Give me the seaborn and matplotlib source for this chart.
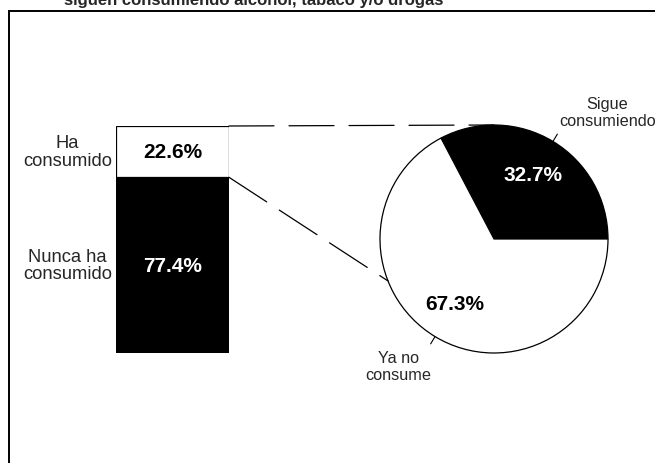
import numpy as np
import pandas as pd
import matplotlib
matplotlib.use("Agg")
import matplotlib.pyplot as plt
from matplotlib.patches import ConnectionPatch, Rectangle
import seaborn as sns

# ---- data ----
title_text = "siguen consumiendo alcohol, tabaco y/o drogas"
bar_categories = ["Nunca ha\nconsumido", "Ha\nconsumido"]
bar_values = [77.4, 22.6]
pie_categories = ["Sigue\nconsumiendo", "Ya no\nconsume"]
pie_values = [32.7, 67.3]

sns.set_style("white")
plt.rcParams["font.family"] = ["Liberation Sans", "DejaVu Sans"]

W, H = 655, 464
fig = plt.figure(figsize=(W / 100, H / 100), dpi=100)

def px_axes(left, top, width, height):
    return fig.add_axes([left / W, 1 - (top + height) / H, width / W, height / H])

# outer frame (extends past right/bottom edges like the reference)
fig.add_artist(Rectangle((8.5 / W, -0.2), 1.2, 1.2 - 12.3 / H, transform=fig.transFigure,
                         fill=False, edgecolor="black", linewidth=1.4))

fig.text(254 / W, 1 - 5.5 / H, title_text, ha="center", va="baseline",
         fontsize=12, fontweight="bold")

# ---- stacked bar ----
ax_bar = px_axes(116, 127, 113, 227)
total = sum(bar_values)
df_total = pd.DataFrame({"grupo": ["Total"], "valor": [total]})
df_base = pd.DataFrame({"grupo": ["Total"], "valor": [bar_values[0]]})
sns.barplot(data=df_total, x="grupo", y="valor", color="white", edgecolor="black",
            linewidth=0.9, width=1, saturation=1, ax=ax_bar)
sns.barplot(data=df_base, x="grupo", y="valor", color="black", edgecolor="black",
            linewidth=0.9, width=1, saturation=1, ax=ax_bar)
ax_bar.set_xlim(-0.5, 0.5)
ax_bar.set_ylim(0, total)
ax_bar.axis("off")

bottom = 0
seg_colors = ["white", "black"]
for cat, val, tc in zip(bar_categories, bar_values, seg_colors):
    mid = bottom + val / 2
    ax_bar.text(0, mid, f"{val:.1f}%", ha="center", va="center", color=tc,
                fontsize=15, fontweight="bold")
    ax_bar.text(-0.43, mid, cat, transform=ax_bar.get_yaxis_transform(),
                ha="center", va="center", multialignment="center",
                fontsize=13.2, linespacing=1.05)
    bottom += val

# ---- pie ----
ax_pie = px_axes(494 - 114, 240 - 114, 228, 228)
wedges, _, autotexts = ax_pie.pie(
    pie_values, colors=["black", "white"], startangle=0, counterclock=True,
    wedgeprops=dict(edgecolor="black", linewidth=0.9),
    autopct=lambda p: f"{p:.1f}%", pctdistance=0.66,
    textprops=dict(fontsize=15, fontweight="bold"))
autotexts[0].set_color("white")
autotexts[1].set_color("black")
ax_pie.set_xlim(-1, 1)
ax_pie.set_ylim(-1, 1)
ax_pie.set_aspect("equal")

label_pos = [(0.996, 1.114), (-0.84, -1.114)]
for w, lab, pos in zip(wedges, pie_categories, label_pos):
    ang = np.deg2rad((w.theta1 + w.theta2) / 2)
    ax_pie.plot([np.cos(ang), 1.075 * np.cos(ang)], [np.sin(ang), 1.075 * np.sin(ang)],
                color="black", lw=0.8, clip_on=False)
    ax_pie.text(pos[0], pos[1], lab, ha="center", va="center", multialignment="center",
                fontsize=11.7, linespacing=1.1, clip_on=False)

# ---- connector lines ----
dash = (0, (36, 12))
conn_angle = np.deg2rad(201.6)
for ya, xyb in [(total, (0, 1)), (bar_values[0], (np.cos(conn_angle), np.sin(conn_angle)))]:
    con = ConnectionPatch(xyA=(0.5, ya), coordsA=ax_bar.transData,
                          xyB=xyb, coordsB=ax_pie.transData,
                          color="black", linewidth=0.9, linestyle=dash)
    fig.add_artist(con)

fig.savefig("out.png", dpi=100)
